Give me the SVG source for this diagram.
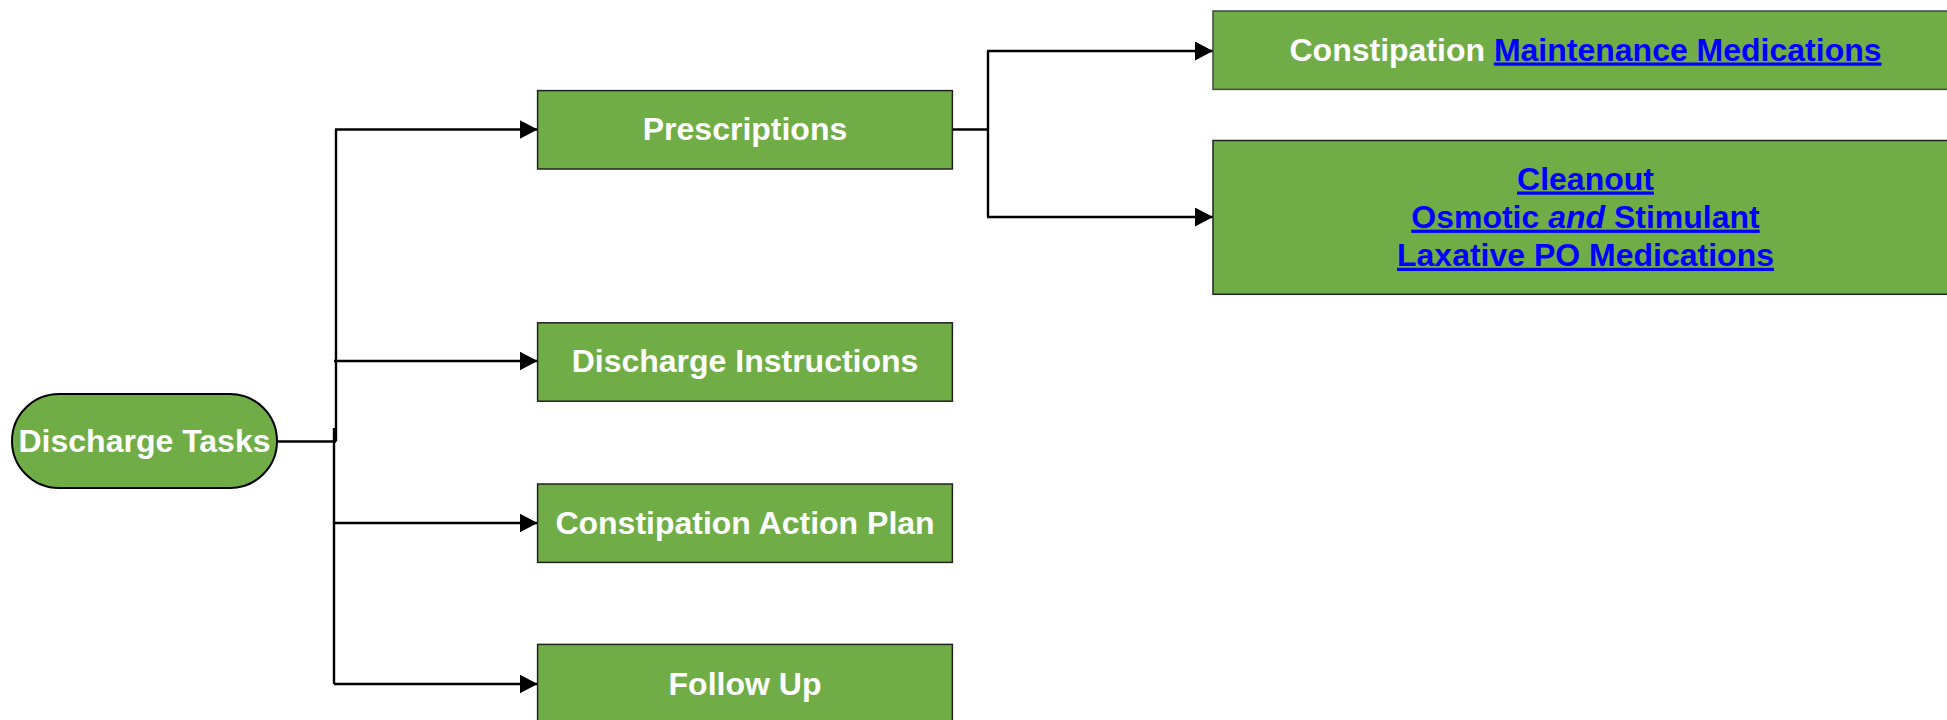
<svg xmlns="http://www.w3.org/2000/svg" width="1947" height="720" viewBox="0 0 1947 720">
  <style>
    .box { fill: #70AD47; stroke: #222; stroke-width: 1.5; }
    .lbl { font-family: "Liberation Sans", Arial, sans-serif; font-weight: bold; font-size: 32px; fill: #FFFFFF; text-anchor: middle; }
    .lnk { fill: #0000FF; text-decoration: underline; }
    .conn { fill: none; stroke: #000; stroke-width: 2.4; }
  </style>
  <defs>
    <marker id="arrow" markerUnits="userSpaceOnUse" markerWidth="18" markerHeight="19" refX="18" refY="9.5" orient="auto">
      <path d="M0,0 L18,9.5 L0,19 Z" fill="#000"/>
    </marker>
  </defs>
  <rect width="1947" height="720" fill="#FFFFFF"/>

  <g id="connectors">
    <path class="conn" d="M277,441.5 H336 M336,129.5 V441.5 M334,428 V684"/>
    <path class="conn" d="M335,129.5 H537.6" marker-end="url(#arrow)"/>
    <path class="conn" d="M334,361 H537.6" marker-end="url(#arrow)"/>
    <path class="conn" d="M334,523 H537.6" marker-end="url(#arrow)"/>
    <path class="conn" d="M334,684 H537.6" marker-end="url(#arrow)"/>
    <path class="conn" d="M952,129.5 H988 M988,51 V217"/>
    <path class="conn" d="M987,51 H1213" marker-end="url(#arrow)"/>
    <path class="conn" d="M987,217 H1213" marker-end="url(#arrow)"/>
  </g>

  <g id="discharge-tasks">
    <rect x="12" y="394" width="265" height="94" rx="47" ry="47" class="box" style="stroke:#000;stroke-width:2"/>
    <text class="lbl" x="144.5" y="452">Discharge Tasks</text>
  </g>

  <g id="prescriptions">
    <rect x="537.6" y="90.6" width="414.8" height="78.4" class="box"/>
    <text class="lbl" x="745" y="140">Prescriptions</text>
  </g>

  <g id="discharge-instructions">
    <rect x="537.6" y="322.8" width="414.8" height="78.4" class="box"/>
    <text class="lbl" x="745" y="372">Discharge Instructions</text>
  </g>

  <g id="constipation-action-plan">
    <rect x="537.6" y="484" width="414.8" height="78.4" class="box"/>
    <text class="lbl" x="745" y="534">Constipation Action Plan</text>
  </g>

  <g id="follow-up">
    <rect x="537.6" y="644.4" width="414.8" height="78.4" class="box"/>
    <text class="lbl" x="745" y="694.5">Follow Up</text>
  </g>

  <g id="maintenance-medications">
    <rect x="1213" y="11" width="745" height="78.4" class="box" style="stroke:#444"/>
    <text class="lbl" x="1585.5" y="60.5">Constipation <tspan class="lnk">Maintenance Medications</tspan></text>
  </g>

  <g id="cleanout-medications">
    <rect x="1213" y="140.5" width="745" height="153.8" class="box"/>
    <text class="lbl" x="1585.5" y="189.5"><tspan class="lnk">Cleanout</tspan></text>
    <text class="lbl" x="1585.5" y="227.7"><tspan class="lnk">Osmotic </tspan><tspan class="lnk" font-style="italic">and</tspan><tspan class="lnk"> Stimulant</tspan></text>
    <text class="lbl" x="1585.5" y="265.8"><tspan class="lnk">Laxative PO Medications</tspan></text>
  </g>
</svg>
